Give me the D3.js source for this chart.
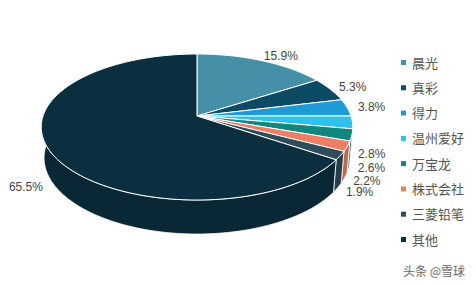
<!DOCTYPE html>
<html>
<head>
<meta charset="utf-8">
<script src="https://cdn.jsdelivr.net/npm/d3@7/dist/d3.min.js"></script>
<style>
  html, body { margin: 0; padding: 0; background: #fff; }
  svg { display: block; }
</style>
</head>
<body>
<script>
/*------- données -------*/
const brands = ["晨光", "真彩", "得力", "温州爱好", "万宝龙", "株式会社", "三菱铅笔", "其他"];
const shares = [15.9, 5.3, 3.8, 2.8, 2.6, 2.2, 1.9, 65.5];
const colors = ["#4590a6", "#0d4a64", "#1e9bd7", "#2ec3ec", "#12877f", "#f07c62", "#2f4c5a", "#0b2f3f"];

var width = 476;
var height = 285;

// géométrie du camembert 3D (projection en perspective)
var cx = 197, cy = 116;
var R = 154;
var depth = 35;
var alpha = 27.6 * Math.PI / 180;
var D = 905;

function proj(theta, rf, y) {
    var x = R * rf * Math.cos(theta);
    var z = R * rf * Math.sin(theta);
    var yc = y * Math.cos(alpha) + z * Math.sin(alpha);
    var zc = z * Math.cos(alpha) - y * Math.sin(alpha);
    var s = D / (D - zc);
    return [cx + x * s, cy + yc * s];
}

var svg = d3.select("body")
    .append("svg")
    .attr("width", width)
    .attr("height", height);

var pie = d3.pie().sort(null).value(function (d) { return d; });
var arcs = pie(shares).map(function (a, i) {
    return { i: i, t0: a.startAngle - Math.PI / 2, t1: a.endAngle - Math.PI / 2, value: a.value };
});

var line = d3.line();

function arcPoints(t0, t1, y) {
    var n = Math.max(2, Math.ceil((t1 - t0) / (Math.PI / 90)));
    var pts = [];
    for (var k = 0; k <= n; k++) {
        pts.push(proj(t0 + (t1 - t0) * k / n, 1, y));
    }
    return pts;
}

/*------- côtés visibles (partie avant seulement) -------*/
var vis0 = -8 * Math.PI / 180, vis1 = 188 * Math.PI / 180;
var sides = arcs
    .map(function (a) {
        return { i: a.i, s0: Math.max(a.t0, vis0), s1: Math.min(a.t1, vis1) };
    })
    .filter(function (d) { return d.s1 > d.s0; });

svg.append("g")
    .selectAll("path")
    .data(sides)
    .enter()
    .append("path")
    .attr("d", function (d) {
        var top = arcPoints(d.s0, d.s1, 0);
        var bot = arcPoints(d.s0, d.s1, depth).reverse();
        return line(top.concat(bot)) + "Z";
    })
    .style("fill", function (d) { return d3.color(colors[d.i]).darker(0.55); })
    .style("stroke", "#fff")
    .style("stroke-width", 0.8)
    .style("stroke-linejoin", "round");

/*------- faces supérieures -------*/
svg.append("g")
    .selectAll("path")
    .data(arcs)
    .enter()
    .append("path")
    .attr("d", function (d) {
        return line([[cx, cy]].concat(arcPoints(d.t0, d.t1, 0))) + "Z";
    })
    .style("fill", function (d) { return colors[d.i]; })
    .style("stroke", "#fff")
    .style("stroke-width", 1)
    .style("stroke-linejoin", "round");

/*------- étiquettes -------*/
svg.append("g")
    .selectAll("text")
    .data(arcs)
    .enter()
    .append("text")
    .each(function (d) {
        var m = (d.t0 + d.t1) / 2;
        var front = Math.sin(m) > 0;
        var p = proj(m, front ? 1.08 : 1.1, front ? depth : 0);
        var right = Math.cos(m) >= 0;
        d3.select(this)
            .attr("x", right ? p[0] - 4 : p[0] + 2)
            .attr("y", p[1])
            .attr("text-anchor", right ? "start" : "end");
    })
    .attr("dy", "0.35em")
    .style("font-family", "'Liberation Sans', Arial, sans-serif")
    .style("font-size", "12px")
    .style("fill", "#444")
    .text(function (d) { return d.value.toFixed(1) + "%"; });

/*------- légende -------*/
var legendY = d3.scalePoint()
    .domain(brands)
    .range([63, 240]);

var legend = svg.append("g")
    .selectAll("g")
    .data(brands)
    .enter()
    .append("g")
    .attr("transform", function (d) { return "translate(401," + legendY(d) + ")"; });

legend.append("rect")
    .attr("x", 0)
    .attr("y", -3)
    .attr("width", 5)
    .attr("height", 5)
    .style("fill", function (d, i) { return colors[i]; });

legend.append("text")
    .attr("x", 11)
    .attr("y", 0)
    .attr("dy", "0.35em")
    .style("font-family", "'Noto Sans CJK SC', sans-serif")
    .style("font-size", "13px")
    .style("fill", "#555")
    .text(function (d) { return d; });

// filigrane
svg.append("text")
    .attr("x", 403)
    .attr("y", 272)
    .attr("dy", "0.35em")
    .style("font-family", "'Noto Sans CJK SC', sans-serif")
    .style("font-size", "12px")
    .style("fill", "#666")
    .text("头条 @雪球");
</script>
</body>
</html>
